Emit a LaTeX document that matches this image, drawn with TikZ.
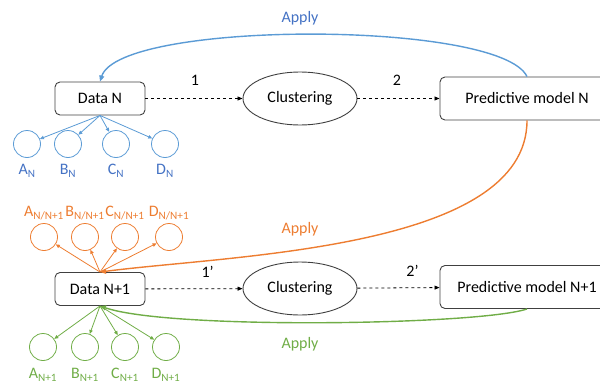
\documentclass[tikz,border=0pt]{standalone}
\usepackage{fontspec}
\setmainfont{Carlito}
\usetikzlibrary{arrows.meta,shapes.geometric}
\definecolor{bline}{HTML}{5B9BD5}
\definecolor{btext}{HTML}{4472C4}
\definecolor{oline}{HTML}{ED7D31}
\definecolor{gline}{HTML}{70AD47}
\definecolor{edge}{HTML}{404040}
\tikzset{
  databox/.style={draw=edge, line width=0.9pt, rounded corners=5pt, minimum width=90pt, minimum height=33pt, inner sep=0pt, font=\fontsize{16}{18}\selectfont},
  predbox/.style={draw=edge, line width=0.9pt, rounded corners=5pt, minimum width=174pt, minimum height=43pt, inner sep=0pt, font=\fontsize{16}{18}\selectfont},
  clust/.style={draw=edge, line width=0.9pt, ellipse, minimum width=114pt, minimum height=53pt, inner sep=0pt, font=\fontsize{16}{18}\selectfont},
  cat/.style={draw, circle, minimum size=27pt, inner sep=0pt, line width=0.8pt},
  lbl/.style={font=\fontsize{16}{18}\selectfont, inner sep=0pt},
  flow/.style={dashed, line width=0.8pt, -{Triangle[length=5pt,width=4pt]}},
  small/.style={line width=0.8pt, -{Triangle[length=4pt,width=3.5pt]}},
  apply/.style={line width=1.4pt, -{Triangle[length=6pt,width=5pt]}},
}
\begin{document}
\begin{tikzpicture}[x=1pt,y=-1pt]
\useasboundingbox (0,0) rectangle (600,383);
\begin{scope}
\clip (0,0) rectangle (600,383);
% top row
\node[databox] (dN) at (100,98.5) {Data N};
\node[clust] (cN) at (300,98.5) {Clustering};
\node[predbox] (pN) at (527,98.5) {Predictive model N};
% bottom row
\node[databox] (dM) at (100,289) {Data N+1};
\node[clust] (cM) at (300,288.5) {Clustering};
\node[predbox] (pM) at (527,287) {Predictive model N+1};
\end{scope}
% flow arrows
\draw[flow] (dN) -- node[lbl, pos=0.51, yshift=18pt] (n1) {1} (cN);
\draw[flow] (cN) -- node[lbl, pos=0.48, yshift=18pt] (n2) {2} (pN);
\draw[flow] (dM) -- node[lbl, pos=0.64, yshift=17pt] (n1p) {1’} (cM);
\draw[flow] (cM) -- node[lbl, pos=0.67, yshift=17pt] (n2p) {2’} (pM);
% blue categories
\begin{scope}[bline]
\node[cat] (aN) at (27,144) {};
\node[cat] (bN) at (68,144) {};
\node[cat] (cNc) at (116,144) {};
\node[cat] (dNc) at (165,144) {};
\node[lbl, text=btext] (laN) at (27,171) {A\textsubscript{N}};
\node[lbl, text=btext] (lbN) at (68,171) {B\textsubscript{N}};
\node[lbl, text=btext] (lcN) at (116,171) {C\textsubscript{N}};
\node[lbl, text=btext] (ldN) at (165,171) {D\textsubscript{N}};
\foreach \t in {aN,bN,cNc,dNc} \draw[small] (dN.south) -- (\t);
\end{scope}
% orange categories
\begin{scope}[oline]
\node[cat] (aO) at (44,237) {};
\node[cat] (bO) at (85,237) {};
\node[cat] (cO) at (125,237) {};
\node[cat] (dO) at (169,237) {};
\node[lbl] (laO) at (44,213) {A\textsubscript{N/N+1}};
\node[lbl] (lbO) at (85,213) {B\textsubscript{N/N+1}};
\node[lbl] (lcO) at (125,213) {C\textsubscript{N/N+1}};
\node[lbl] (ldO) at (169,213) {D\textsubscript{N/N+1}};
\foreach \t in {aO,bO,cO,dO} \draw[small] (dM.north) -- (\t);
\end{scope}
% green categories
\begin{scope}[gline]
\node[cat] (aG) at (43,347) {};
\node[cat] (bG) at (85,347) {};
\node[cat] (cG) at (125,347) {};
\node[cat] (dG) at (166,347) {};
\node[lbl] (laG) at (43,375) {A\textsubscript{N+1}};
\node[lbl] (lbG) at (85,375) {B\textsubscript{N+1}};
\node[lbl] (lcG) at (125,375) {C\textsubscript{N+1}};
\node[lbl] (ldG) at (166,375) {D\textsubscript{N+1}};
\foreach \t in {aG,bG,cG,dG} \draw[small] (dM.south) -- (\t);
\end{scope}
% apply arcs
\draw[apply, bline] (pN.north) .. controls (500,20) and (120,20) .. (dN.north);
\node[lbl, text=btext] (ap1) at (300,18) {Apply};
\draw[apply, oline] (pN.south) .. controls (527,250) and (230,255) .. (dM.north);
\node[lbl, text=oline] (ap2) at (300,229) {Apply};
\draw[apply, gline] (pM.south) .. controls (480,325) and (170,330) .. (dM.south);
\node[lbl, text=gline] (ap3) at (300,344) {Apply};
\end{tikzpicture}
\end{document}
